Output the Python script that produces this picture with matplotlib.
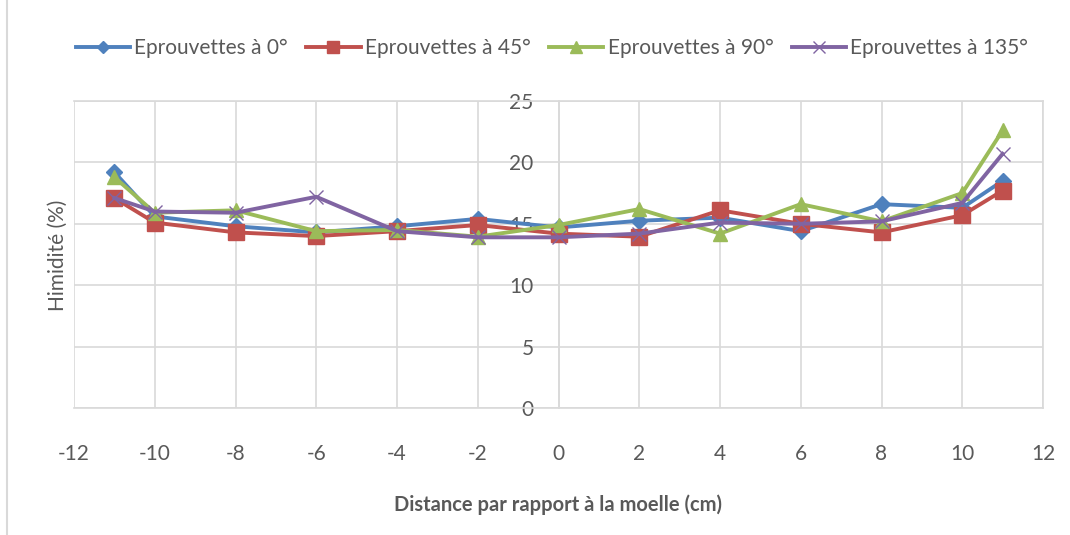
import matplotlib
matplotlib.use("Agg")
import matplotlib.pyplot as plt
from matplotlib.lines import Line2D

plt.rcParams['font.family'] = ['Lato', 'DejaVu Sans']
plt.rcParams['axes.unicode_minus'] = False

x = [-11, -10, -8, -6, -4, -2, 0, 2, 4, 6, 8, 10, 11]
s0 = [19.2, 15.6, 14.8, 14.3, 14.8, 15.4, 14.7, 15.25, 15.5, 14.4, 16.6, 16.3, 18.5]
s45 = [17.1, 15.1, 14.3, 14.0, 14.4, 14.9, 14.2, 13.95, 16.1, 15.0, 14.3, 15.7, 17.7]
s90 = [18.8, 15.9, 16.1, 14.4, 14.5, 13.95, 14.9, 16.2, 14.2, 16.6, 15.2, 17.5, 22.6]
s135 = [17.1, 16.0, 15.9, 17.2, 14.4, 13.9, 13.9, 14.2, 15.1, 15.0, 15.2, 16.7, 20.7]
labels = ['Eprouvettes à 0°', 'Eprouvettes à 45°', 'Eprouvettes à 90°', 'Eprouvettes à 135°']
xticks = [-12, -10, -8, -6, -4, -2, 0, 2, 4, 6, 8, 10, 12]
yticks = [0, 5, 10, 15, 20, 25]

colors = ['#4F81BD', '#C0504D', '#9BBB59', '#8064A2']
markers = ['D', 's', '^', 'x']
msizes = [8, 11, 10, 10]

fig = plt.figure(figsize=(10.7, 5.35), dpi=100)
ax = fig.add_axes([74/1070, 1-408/535, (1043-74)/1070, (408-101)/535])

for ys, c, m, ms, lab in zip([s0, s45, s90, s135], colors, markers, msizes, labels):
    if m == 'x':
        ax.plot(x, ys, color=c, lw=2.8, marker=m, ms=ms, mew=1.0, label=lab, zorder=3)
    else:
        ax.plot(x, ys, color=c, lw=2.8, marker=m, ms=ms, mec=c, mfc=c, label=lab, zorder=3)

ax.set_xlim(-12, 12)
ax.set_ylim(0, 25)
ax.set_xticks(xticks)
ax.set_yticks(yticks)
ax.grid(True, color='#D9D9D9', lw=1.2, zorder=0)
ax.set_axisbelow(True)
for sp in ['top', 'right', 'bottom']:
    ax.spines[sp].set_color('#D9D9D9')
    ax.spines[sp].set_linewidth(1.2)
ax.spines['left'].set_position(('data', 0))
ax.spines['left'].set_color('#D9D9D9')
ax.spines['left'].set_linewidth(1.2)
ax.tick_params(axis='both', length=0, labelsize=15, colors='#595959')
ax.tick_params(axis='y', pad=18)
ax.tick_params(axis='x', pad=26)

ax.set_xlabel('Distance par rapport à la moelle (cm)', fontsize=14.5, color='#595959',
              fontweight='bold', labelpad=22)
fig.text(58/1070, 1-255/535, 'Himidité (%)', rotation=90, ha='center', va='center',
         fontsize=15, color='#595959')

handles = [Line2D([0], [0], color=c, lw=2.8, marker=m, ms=ms*0.8,
                  mec=c, mfc=c) for c, m, ms in zip(colors, markers, msizes)]
fig.legend(handles, labels, loc='center', bbox_to_anchor=(552/1070, 1-48/535), ncol=4,
           frameon=False, fontsize=15, labelcolor='#595959', handlelength=2.6,
           handletextpad=0.2, columnspacing=0.9)

fig.add_artist(Line2D([7/1070, 7/1070], [0, 1], transform=fig.transFigure, color='#D9D9D9', lw=1.5))

fig.savefig('out.png', dpi=100)
